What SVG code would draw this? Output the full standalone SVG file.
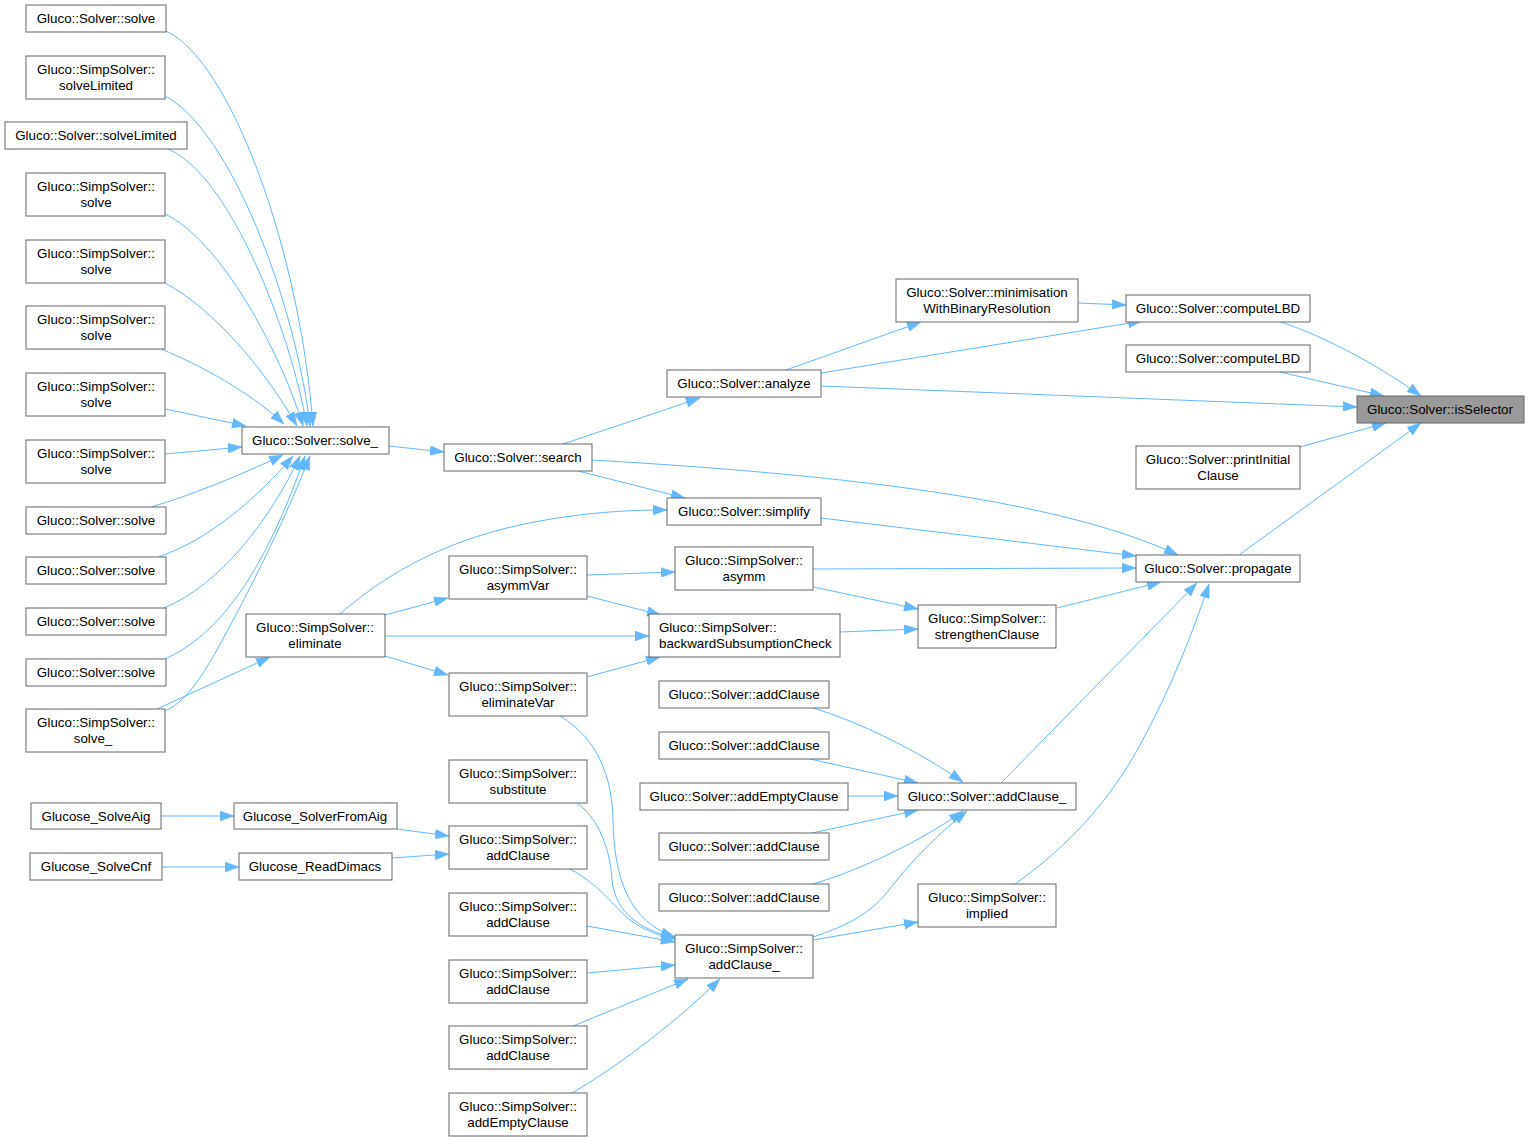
<svg xmlns="http://www.w3.org/2000/svg" width="1530" height="1141" viewBox="0 0 1530 1141">
<defs>
<style>
.n rect{fill:#ffffff;stroke:#666666;stroke-width:1}
.n.hl rect{fill:#999999}
.n text{font-family:"Liberation Sans",Arial,sans-serif;font-size:13.33px;fill:#000000;text-anchor:middle}
.n text.l{text-anchor:start}
#edges path{fill:none;stroke:#63b8ff;stroke-width:1;marker-end:url(#ah)}
</style>
<marker id="ah" markerUnits="userSpaceOnUse" markerWidth="14" markerHeight="10" refX="13.3" refY="4.65" orient="auto" viewBox="0 0 13.3 9.3">
<path d="M0,0 L13.3,4.65 L0,9.3 z" fill="#63b8ff" stroke="#63b8ff" stroke-width="0.5"/>
</marker>
</defs>
<rect width="1530" height="1141" fill="#ffffff"/>

<g id="edges">
<path d="M166,31 C230,60 300,250 313,426"/>
<path d="M165,96 C230,130 295,300 310,426"/>
<path d="M168,149 C230,175 290,330 307,426"/>
<path d="M165,214 C220,240 280,350 303,426"/>
<path d="M165,283 C215,310 265,370 297,426"/>
<path d="M161,349 C200,365 250,392 284,424"/>
<path d="M165,409 L246,426"/>
<path d="M165,454 L242,447"/>
<path d="M151,507 C190,496 245,473 283,455"/>
<path d="M158,557 C210,540 260,495 293,456"/>
<path d="M164,608 C220,585 270,520 300,456"/>
<path d="M165,659 C230,630 272,550 305,456"/>
<path d="M165,711 C185,702 200,680 218,648 C250,590 285,520 310,456"/>
<path d="M157,709 L270,657"/>
<path d="M389,446 L444,452"/>
<path d="M563,444 L700,398"/>
<path d="M578,471 L685,498"/>
<path d="M592,460 C850,475 1060,500 1178,555"/>
<path d="M786,370 L921,322"/>
<path d="M821,373 L1142,321"/>
<path d="M821,386 L1357,407"/>
<path d="M1078,303 L1126,305"/>
<path d="M1278,321 C1330,338 1385,370 1421,396"/>
<path d="M1280,372 L1384,396"/>
<path d="M1300,447 L1386,423"/>
<path d="M1239,555 L1421,423"/>
<path d="M821,518 L1136,556"/>
<path d="M813,569 L1136,568"/>
<path d="M1057,608 L1161,582"/>
<path d="M1001,783 L1197,583"/>
<path d="M1015,884 C1070,845 1110,800 1140,745 C1170,690 1192,635 1209,584"/>
<path d="M813,587 L918,609"/>
<path d="M840,632 L918,629"/>
<path d="M587,575 L675,572"/>
<path d="M587,596 L661,615"/>
<path d="M385,636 L649,636"/>
<path d="M385,615 L448,598"/>
<path d="M385,656 L448,675"/>
<path d="M587,677 L660,657"/>
<path d="M340,614 C390,570 450,540 520,525 C580,512 630,510 667,510"/>
<path d="M560,716 C600,740 612,780 613,820 C614,880 630,922 675,937"/>
<path d="M577,803 C600,820 610,850 612,880 C615,912 640,930 675,938"/>
<path d="M570,869 C600,885 612,905 630,920 C645,931 660,936 675,939"/>
<path d="M587,926 L675,942"/>
<path d="M587,973 L675,965"/>
<path d="M573,1026 L688,979"/>
<path d="M572,1093 C625,1062 680,1018 720,979"/>
<path d="M161,816 L234,816"/>
<path d="M162,867 L239,867"/>
<path d="M397,829 L449,836"/>
<path d="M392,858 L449,854"/>
<path d="M813,708 C860,722 920,752 963,782"/>
<path d="M810,759 L918,783"/>
<path d="M848,796 L898,796"/>
<path d="M812,833 L918,810"/>
<path d="M813,884 C860,870 920,842 963,811"/>
<path d="M813,937 C850,925 870,912 885,895 C910,862 940,832 967,811"/>
<path d="M813,940 L918,922"/>
</g>

<g id="node-solve-1" class="n"><rect x="26" y="5" width="140" height="27"/><text x="96" y="23">Gluco::Solver::solve</text></g>
<g id="node-simp-solveLimited" class="n"><rect x="26" y="56" width="139" height="43"/><text x="96" y="74">Gluco::SimpSolver::</text><text x="96" y="90">solveLimited</text></g>
<g id="node-solver-solveLimited" class="n"><rect x="5" y="122" width="182" height="27"/><text x="96" y="140">Gluco::Solver::solveLimited</text></g>
<g id="node-simp-solve-1" class="n"><rect x="26" y="173" width="139" height="43"/><text x="96" y="191">Gluco::SimpSolver::</text><text x="96" y="207">solve</text></g>
<g id="node-simp-solve-2" class="n"><rect x="26" y="240" width="139" height="43"/><text x="96" y="258">Gluco::SimpSolver::</text><text x="96" y="274">solve</text></g>
<g id="node-simp-solve-3" class="n"><rect x="26" y="306" width="139" height="43"/><text x="96" y="324">Gluco::SimpSolver::</text><text x="96" y="340">solve</text></g>
<g id="node-simp-solve-4" class="n"><rect x="26" y="373" width="139" height="43"/><text x="96" y="391">Gluco::SimpSolver::</text><text x="96" y="407">solve</text></g>
<g id="node-simp-solve-5" class="n"><rect x="26" y="440" width="139" height="43"/><text x="96" y="458">Gluco::SimpSolver::</text><text x="96" y="474">solve</text></g>
<g id="node-solve-2" class="n"><rect x="26" y="507" width="140" height="27"/><text x="96" y="525">Gluco::Solver::solve</text></g>
<g id="node-solve-3" class="n"><rect x="26" y="557" width="140" height="27"/><text x="96" y="575">Gluco::Solver::solve</text></g>
<g id="node-solve-4" class="n"><rect x="26" y="608" width="140" height="27"/><text x="96" y="626">Gluco::Solver::solve</text></g>
<g id="node-solve-5" class="n"><rect x="26" y="659" width="140" height="27"/><text x="96" y="677">Gluco::Solver::solve</text></g>
<g id="node-simp-solve_" class="n"><rect x="26" y="709" width="139" height="43"/><text x="96" y="727">Gluco::SimpSolver::</text><text x="93" y="743">solve_</text></g>

<g id="node-solver-solve_" class="n"><rect x="242" y="427" width="147" height="27"/><text x="315" y="445">Gluco::Solver::solve_</text></g>
<g id="node-eliminate" class="n"><rect x="246" y="614" width="139" height="43"/><text x="315" y="632">Gluco::SimpSolver::</text><text x="315" y="648">eliminate</text></g>
<g id="node-search" class="n"><rect x="444" y="444" width="148" height="27"/><text x="518" y="462">Gluco::Solver::search</text></g>
<g id="node-analyze" class="n"><rect x="667" y="370" width="154" height="27"/><text x="744" y="388">Gluco::Solver::analyze</text></g>
<g id="node-simplify" class="n"><rect x="667" y="498" width="154" height="27"/><text x="744" y="516">Gluco::Solver::simplify</text></g>
<g id="node-minimisation" class="n"><rect x="896" y="279" width="182" height="43"/><text x="987" y="297">Gluco::Solver::minimisation</text><text x="987" y="313">WithBinaryResolution</text></g>
<g id="node-computeLBD-1" class="n"><rect x="1126" y="295" width="184" height="27"/><text x="1218" y="313">Gluco::Solver::computeLBD</text></g>
<g id="node-computeLBD-2" class="n"><rect x="1126" y="345" width="184" height="27"/><text x="1218" y="363">Gluco::Solver::computeLBD</text></g>
<g id="node-isSelector" class="n hl"><rect x="1357" y="396" width="167" height="27"/><text x="1440" y="414">Gluco::Solver::isSelector</text></g>
<g id="node-printInitialClause" class="n"><rect x="1136" y="446" width="164" height="43"/><text x="1218" y="464">Gluco::Solver::printInitial</text><text x="1218" y="480">Clause</text></g>
<g id="node-propagate" class="n"><rect x="1136" y="555" width="164" height="27"/><text x="1218" y="573">Gluco::Solver::propagate</text></g>
<g id="node-asymm" class="n"><rect x="675" y="547" width="138" height="43"/><text x="744" y="565">Gluco::SimpSolver::</text><text x="744" y="581">asymm</text></g>
<g id="node-strengthenClause" class="n"><rect x="918" y="605" width="138" height="43"/><text x="987" y="623">Gluco::SimpSolver::</text><text x="987" y="639">strengthenClause</text></g>
<g id="node-backwardSubsumptionCheck" class="n"><rect x="649" y="614" width="191" height="43"/><text class="l" x="659" y="632">Gluco::SimpSolver::</text><text class="l" x="659" y="648">backwardSubsumptionCheck</text></g>
<g id="node-asymmVar" class="n"><rect x="449" y="556" width="138" height="43"/><text x="518" y="574">Gluco::SimpSolver::</text><text x="518" y="590">asymmVar</text></g>
<g id="node-eliminateVar" class="n"><rect x="449" y="673" width="138" height="43"/><text x="518" y="691">Gluco::SimpSolver::</text><text x="518" y="707">eliminateVar</text></g>
<g id="node-solver-addClause-1" class="n"><rect x="659" y="681" width="170" height="27"/><text x="744" y="699">Gluco::Solver::addClause</text></g>
<g id="node-solver-addClause-2" class="n"><rect x="659" y="732" width="170" height="27"/><text x="744" y="750">Gluco::Solver::addClause</text></g>
<g id="node-solver-addEmptyClause" class="n"><rect x="640" y="783" width="208" height="27"/><text x="744" y="801">Gluco::Solver::addEmptyClause</text></g>
<g id="node-solver-addClause-3" class="n"><rect x="659" y="833" width="170" height="27"/><text x="744" y="851">Gluco::Solver::addClause</text></g>
<g id="node-solver-addClause-4" class="n"><rect x="659" y="884" width="170" height="27"/><text x="744" y="902">Gluco::Solver::addClause</text></g>
<g id="node-solver-addClause_" class="n"><rect x="898" y="783" width="178" height="27"/><text x="987" y="801">Gluco::Solver::addClause_</text></g>
<g id="node-implied" class="n"><rect x="918" y="884" width="138" height="43"/><text x="987" y="902">Gluco::SimpSolver::</text><text x="987" y="918">implied</text></g>
<g id="node-simp-addClause_" class="n"><rect x="675" y="935" width="138" height="43"/><text x="744" y="953">Gluco::SimpSolver::</text><text x="744" y="969">addClause_</text></g>
<g id="node-substitute" class="n"><rect x="449" y="760" width="138" height="43"/><text x="518" y="778">Gluco::SimpSolver::</text><text x="518" y="794">substitute</text></g>
<g id="node-simp-addClause-1" class="n"><rect x="449" y="826" width="138" height="43"/><text x="518" y="844">Gluco::SimpSolver::</text><text x="518" y="860">addClause</text></g>
<g id="node-simp-addClause-2" class="n"><rect x="449" y="893" width="138" height="43"/><text x="518" y="911">Gluco::SimpSolver::</text><text x="518" y="927">addClause</text></g>
<g id="node-simp-addClause-3" class="n"><rect x="449" y="960" width="138" height="43"/><text x="518" y="978">Gluco::SimpSolver::</text><text x="518" y="994">addClause</text></g>
<g id="node-simp-addClause-4" class="n"><rect x="449" y="1026" width="138" height="43"/><text x="518" y="1044">Gluco::SimpSolver::</text><text x="518" y="1060">addClause</text></g>
<g id="node-simp-addEmptyClause" class="n"><rect x="449" y="1093" width="138" height="43"/><text x="518" y="1111">Gluco::SimpSolver::</text><text x="518" y="1127">addEmptyClause</text></g>
<g id="node-Glucose_SolveAig" class="n"><rect x="31" y="803" width="130" height="26"/><text x="96" y="821">Glucose_SolveAig</text></g>
<g id="node-Glucose_SolverFromAig" class="n"><rect x="234" y="803" width="163" height="26"/><text x="315" y="821">Glucose_SolverFromAig</text></g>
<g id="node-Glucose_SolveCnf" class="n"><rect x="30" y="853" width="132" height="27"/><text x="96" y="871">Glucose_SolveCnf</text></g>
<g id="node-Glucose_ReadDimacs" class="n"><rect x="239" y="853" width="153" height="27"/><text x="315" y="871">Glucose_ReadDimacs</text></g>
</svg>
